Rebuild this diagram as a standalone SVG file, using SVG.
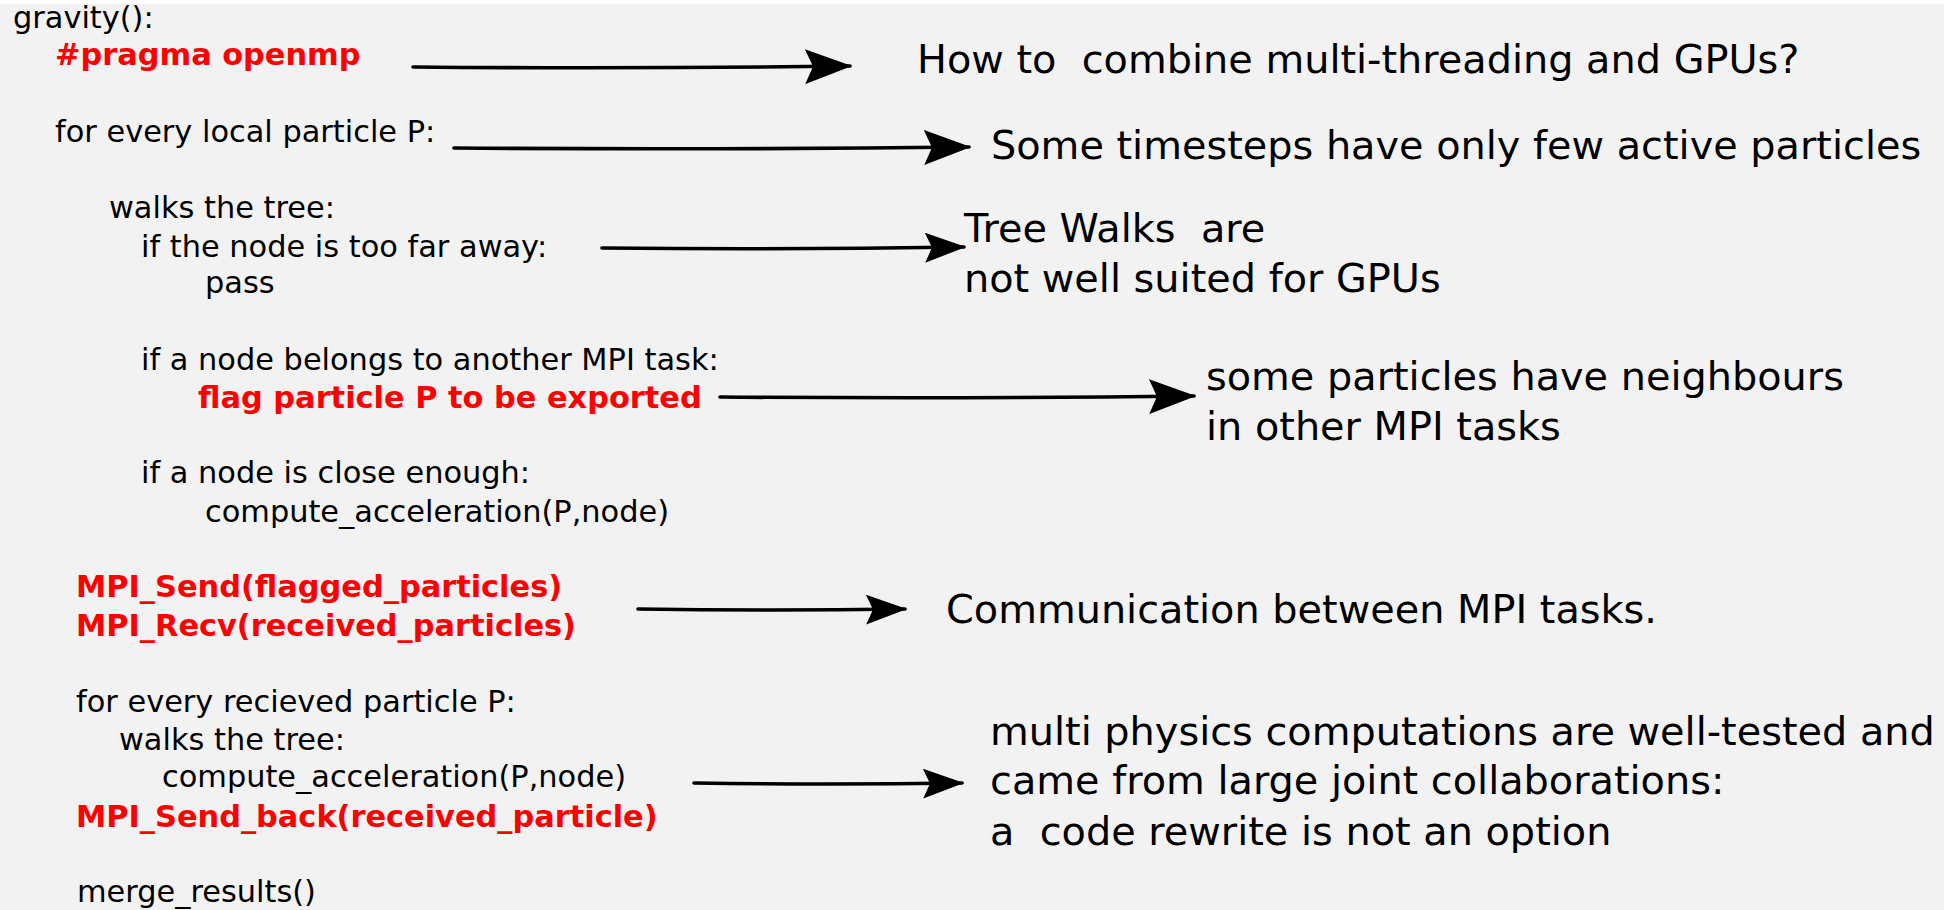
<svg xmlns="http://www.w3.org/2000/svg" width="1944" height="910" viewBox="0 0 1944 910">
<style>
text{white-space:pre}
.code{font-family:"DejaVu Sans",Verdana,sans-serif;font-size:30.4px;fill:#000}
.red{font-family:"DejaVu Sans",Verdana,sans-serif;font-size:30.4px;font-weight:bold;fill:#ff0000}
.note{font-family:"DejaVu Sans",Verdana,sans-serif;font-size:39.8px;fill:#000}
.conn{stroke:#000;stroke-width:3.6;fill:none;stroke-linecap:round}
</style>
<defs>
<marker id="ahl" viewBox="0 0 47 35" refX="45" refY="17.5" markerWidth="47" markerHeight="35" markerUnits="userSpaceOnUse" orient="auto">
<path d="M0,0 L47,17.5 L0,35 L8,17.5 Z" fill="#000"/>
</marker>
<marker id="ahs" viewBox="0 0 41 30" refX="39" refY="15" markerWidth="41" markerHeight="30" markerUnits="userSpaceOnUse" orient="auto">
<path d="M0,0 L41,15 L0,30 L7,15 Z" fill="#000"/>
</marker>
</defs>
<rect x="0" y="0" width="1944" height="910" fill="#f2f2f2"/>
<rect x="0" y="0" width="1944" height="4" fill="#ffffff"/>

<g id="code">
<g id="n-gravity"><text class="code" x="13" y="28">gravity():</text></g>
<g id="n-pragma"><text class="red" x="55" y="65">#pragma openmp</text></g>
<g id="n-forlocal"><text class="code" x="55" y="142">for every local particle P:</text></g>
<g id="n-walks1"><text class="code" x="109" y="218">walks the tree:</text></g>
<g id="n-far"><text class="code" x="141" y="257">if the node is too far away:</text></g>
<g id="n-pass"><text class="code" x="205" y="293">pass</text></g>
<g id="n-belongs"><text class="code" x="141" y="370">if a node belongs to another MPI task:</text></g>
<g id="n-flag"><text class="red" x="198" y="408">flag particle P to be exported</text></g>
<g id="n-close"><text class="code" x="141" y="483">if a node is close enough:</text></g>
<g id="n-compute1"><text class="code" x="205" y="522">compute_acceleration(P,node)</text></g>
<g id="n-send"><text class="red" x="76" y="597">MPI_Send(flagged_particles)</text></g>
<g id="n-recv"><text class="red" x="76" y="636">MPI_Recv(received_particles)</text></g>
<g id="n-forrecv"><text class="code" x="76" y="712">for every recieved particle P:</text></g>
<g id="n-walks2"><text class="code" x="119" y="750">walks the tree:</text></g>
<g id="n-compute2"><text class="code" x="162" y="787">compute_acceleration(P,node)</text></g>
<g id="n-sendback"><text class="red" x="76" y="827">MPI_Send_back(received_particle)</text></g>
<g id="n-merge"><text class="code" x="77" y="902">merge_results()</text></g>
</g>

<g id="notes">
<g id="c-threads"><text class="note" x="917" y="73" xml:space="preserve">How to  combine multi-threading and GPUs?</text></g>
<g id="c-timesteps"><text class="note" x="991" y="159">Some timesteps have only few active particles</text></g>
<g id="c-treewalks"><text class="note" x="964" y="242" xml:space="preserve">Tree Walks  are</text><text class="note" x="964" y="292">not well suited for GPUs</text></g>
<g id="c-neighbours"><text class="note" x="1206" y="390">some particles have neighbours</text><text class="note" x="1206" y="440">in other MPI tasks</text></g>
<g id="c-comm"><text class="note" x="946" y="623">Communication between MPI tasks.</text></g>
<g id="c-physics"><text class="note" x="990" y="745">multi physics computations are well-tested and</text><text class="note" x="990" y="794">came from large joint collaborations:</text><text class="note" x="990" y="845" xml:space="preserve">a  code rewrite is not an option</text></g>
</g>

<g id="connectors">
<path class="conn" d="M413,67 Q630,69 850,66" marker-end="url(#ahl)"/>
<path class="conn" d="M454,148 Q710,150 969,147" marker-end="url(#ahl)"/>
<path class="conn" d="M602,248 Q780,250 964,247" marker-end="url(#ahs)"/>
<path class="conn" d="M720,397 Q955,399 1194,396" marker-end="url(#ahl)"/>
<path class="conn" d="M638,609 Q770,611 905,609" marker-end="url(#ahs)"/>
<path class="conn" d="M694,783 Q828,785 962,783" marker-end="url(#ahs)"/>
</g>
</svg>
